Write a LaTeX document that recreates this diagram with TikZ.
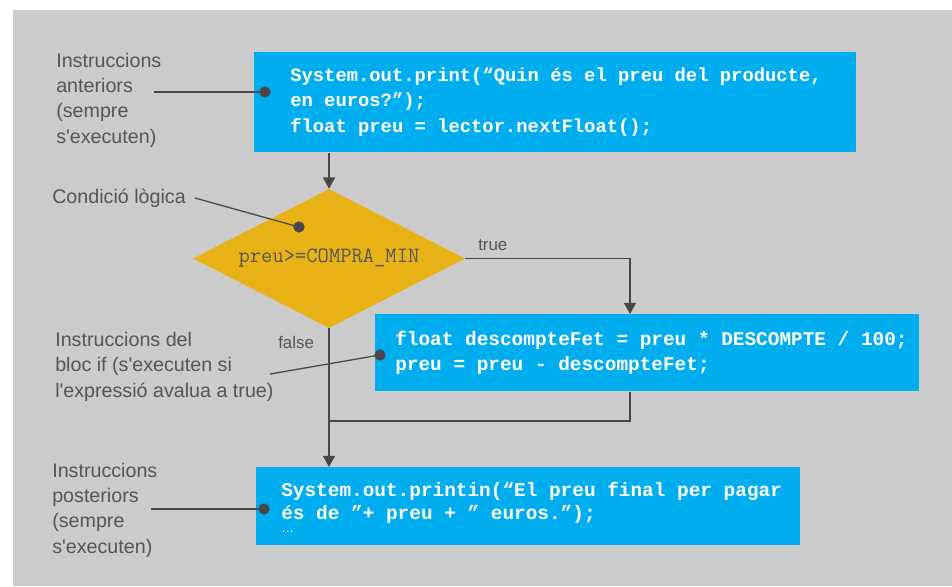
\documentclass[tikz,border=0pt]{standalone}
\usepackage{fontspec}
\setmainfont{Liberation Sans}
\setmonofont{Liberation Mono}
\newfontfamily\lmtt{Latin Modern Mono}
\usetikzlibrary{shapes.geometric,arrows.meta}
\definecolor{bg}{HTML}{CCCCCC}
\definecolor{boxblue}{HTML}{00AEEF}
\definecolor{condyellow}{HTML}{E9B318}
\definecolor{linegray}{HTML}{474747}
\definecolor{textgray}{HTML}{555555}
\begin{document}
\begin{tikzpicture}[x=0.025cm,y=-0.025cm,
  codebox/.style={fill=boxblue, draw=none, inner sep=0, anchor=north west},
  code/.style={font=\ttfamily\bfseries\fontsize{13.8}{17.5}\selectfont, text=white, align=left, inner sep=0, anchor=base west},
  lbl/.style={font=\fontsize{14}{17.8}\selectfont, text=textgray, align=left, inner sep=0, anchor=base west},
  small/.style={font=\fontsize{12}{14}\selectfont, text=textgray, inner sep=0, anchor=base west},
  flow/.style={draw=linegray, line width=1.1pt},
  arr/.style={flow, -{Triangle[length=8pt,width=8.5pt]}},
  pointer/.style={draw=linegray, line width=0.9pt},
  dot/.style={circle, fill=linegray, inner sep=0, minimum size=8pt}
]
\useasboundingbox (0,0) rectangle (952,586);
\fill[white] (0,0) rectangle (952,586);
\fill[bg] (13,10) rectangle (952,586);

% boxes
\node[codebox, minimum width=15.05cm, minimum height=2.5cm] (b1) at (254,52) {};
\node[codebox, minimum width=13.6cm, minimum height=1.925cm] (b2) at (375,314) {};
\node[codebox, minimum width=13.6cm, minimum height=1.95cm] (b3) at (256,467) {};
\node[diamond, fill=condyellow, minimum width=6.8cm, minimum height=3.475cm, shape aspect=1.96, inner sep=0,
      font=\lmtt\fontsize{15.6}{17}\selectfont, text=textgray] (cond) at (329,258.5) {preu>=COMPRA\_MIN};

% code text
\node[code, font=\ttfamily\bfseries\fontsize{13.4}{17.8}\selectfont] (t1) at (290,132)
  {System.out.print(“Quin és el preu del producte,\\en euros?”);\\float preu = lector.nextFloat();};
\node[code] (t2) at (395,370)
  {float descompteFet = preu * DESCOMPTE / 100;\\preu = preu - descompteFet;};
\node[code, font=\ttfamily\bfseries\fontsize{13.8}{16}\selectfont] (t3) at (281,519)
  {System.out.printin(“El preu final per pagar\\és de ”+ preu + ” euros.”);};
\node[code, font=\fontsize{9}{10}\selectfont] (t3b) at (281,532) {…};

% flow connectors
\coordinate (j1) at (630,314);
\coordinate (j2) at (630,421);
\draw[arr] (cond.north |- b1.south) -- (cond.north);
\draw[arr] (cond.east) -| (j1);
\draw[flow] (j1 |- b2.south) -- (j2) -- (j2 -| cond.south);
\draw[arr] (cond.south) -- (cond.south |- b3.north);
\node[small] (ltrue) at (478,250) {true};
\node[small] (lfalse) at (278,348) {false};

% annotation labels
\node[lbl] (l1) at (56,143) {Instruccions\\anteriors\\(sempre\\s\textquotesingle executen)};
\node[lbl] (l2) at (52,203) {Condició lògica};
\node[lbl] (l3) at (55,397) {Instruccions del\\bloc if (s\textquotesingle executen si\\l\textquotesingle expressió avalua a true)};
\node[lbl] (l4) at (52,553) {Instruccions\\posteriors\\(sempre\\s\textquotesingle executen)};

% pointers
\coordinate (p1) at (154,92);
\coordinate (p2) at (195,198);
\coordinate (p3) at (270,374);
\coordinate (p4) at (151,509);
\node[dot] (d1) at (265,92) {};
\node[dot] (d2) at (299,227) {};
\node[dot] (d3) at (380,355) {};
\node[dot] (d4) at (264,509) {};
\draw[pointer] (p1) -- (d1.center);
\draw[pointer] (p2) -- (d2.center);
\draw[pointer] (p3) -- (d3.center);
\draw[pointer] (p4) -- (d4.center);
\end{tikzpicture}
\end{document}
